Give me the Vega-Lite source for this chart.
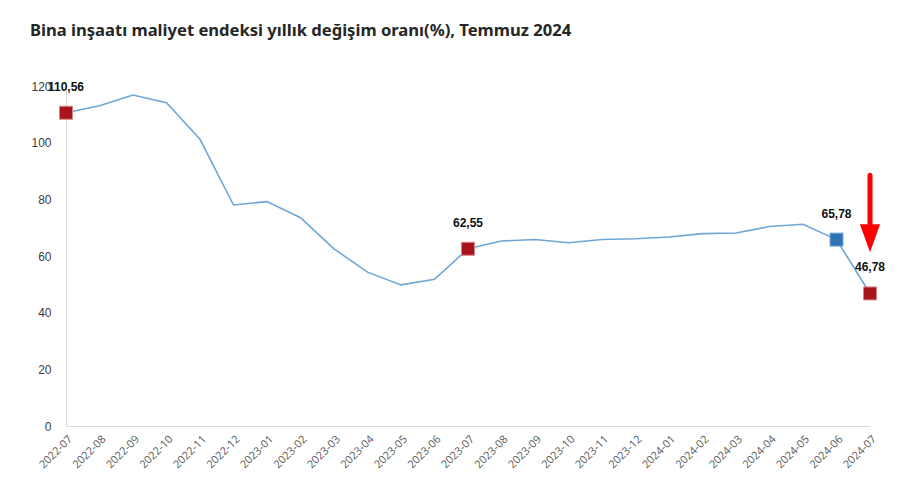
{
  "$schema": "https://vega.github.io/schema/vega-lite/v6.json",
  "width": 804,
  "height": 340,
  "autosize": "none",
  "padding": {"left": 66, "top": 86, "right": 37, "bottom": 78},
  "background": "white",
  "title": {
    "text": "Bina inşaatı maliyet endeksi yıllık değişim oranı(%), Temmuz 2024",
    "anchor": "start",
    "frame": "group",
    "dx": -36,
    "offset": 40,
    "font": "Noto Sans",
    "fontSize": 16.6,
    "fontWeight": "bold",
    "color": "#262626"
  },
  "config": {"view": {"stroke": null}},
  "datasets": {
    "series": [
      {"month": "2022-07", "value": 110.56, "mark": "red", "label": "110,56"},
      {"month": "2022-08", "value": 113.0, "mark": "", "label": ""},
      {"month": "2022-09", "value": 116.8, "mark": "", "label": ""},
      {"month": "2022-10", "value": 114.1, "mark": "", "label": ""},
      {"month": "2022-11", "value": 101.2, "mark": "", "label": ""},
      {"month": "2022-12", "value": 78.0, "mark": "", "label": ""},
      {"month": "2023-01", "value": 79.2, "mark": "", "label": ""},
      {"month": "2023-02", "value": 73.5, "mark": "", "label": ""},
      {"month": "2023-03", "value": 62.5, "mark": "", "label": ""},
      {"month": "2023-04", "value": 54.3, "mark": "", "label": ""},
      {"month": "2023-05", "value": 49.8, "mark": "", "label": ""},
      {"month": "2023-06", "value": 51.8, "mark": "", "label": ""},
      {"month": "2023-07", "value": 62.55, "mark": "red", "label": "62,55"},
      {"month": "2023-08", "value": 65.3, "mark": "", "label": ""},
      {"month": "2023-09", "value": 65.8, "mark": "", "label": ""},
      {"month": "2023-10", "value": 64.7, "mark": "", "label": ""},
      {"month": "2023-11", "value": 65.8, "mark": "", "label": ""},
      {"month": "2023-12", "value": 66.1, "mark": "", "label": ""},
      {"month": "2024-01", "value": 66.7, "mark": "", "label": ""},
      {"month": "2024-02", "value": 67.9, "mark": "", "label": ""},
      {"month": "2024-03", "value": 68.1, "mark": "", "label": ""},
      {"month": "2024-04", "value": 70.4, "mark": "", "label": ""},
      {"month": "2024-05", "value": 71.2, "mark": "", "label": ""},
      {"month": "2024-06", "value": 65.78, "mark": "blue", "label": "65,78"},
      {"month": "2024-07", "value": 46.78, "mark": "red", "label": "46,78"}
    ],
    "arrow": [
      {"month": "2024-07", "top": 88.5, "bottom": 71.5, "head": 66.3}
    ]
  },
  "data": {"name": "series"},
  "encoding": {
    "x": {
      "field": "month",
      "type": "ordinal",
      "scale": {"type": "point", "padding": 0},
      "axis": {
        "title": null,
        "labelAngle": -45,
        "labelFont": "Open Sans",
        "labelFontSize": 11,
        "labelColor": "#595959",
        "ticks": false,
        "domainColor": "#d9d9d9",
        "labelPadding": 7
      }
    },
    "y": {
      "field": "value",
      "type": "quantitative",
      "scale": {"domain": [0, 120]},
      "axis": {
        "title": null,
        "values": [0, 20, 40, 60, 80, 100, 120],
        "grid": false,
        "ticks": false,
        "domainColor": "#d9d9d9",
        "labelFont": "Liberation Sans",
        "labelFontSize": 12,
        "labelColor": "#404040",
        "labelPadding": 15
      }
    }
  },
  "layer": [
    {
      "mark": {"type": "line", "color": "#6fa6d6", "strokeWidth": 1.6}
    },
    {
      "transform": [{"filter": "datum.mark != ''"}],
      "mark": {"type": "square", "size": 169, "opacity": 1, "strokeWidth": 1},
      "encoding": {
        "color": {
          "field": "mark",
          "type": "nominal",
          "scale": {"domain": ["red", "blue"], "range": ["#a8141c", "#2e75b6"]},
          "legend": null
        },
        "stroke": {
          "field": "mark",
          "type": "nominal",
          "scale": {"domain": ["red", "blue"], "range": ["#d9868a", "#7aa8d4"]},
          "legend": null
        }
      }
    },
    {
      "transform": [{"filter": "datum.label != ''"}],
      "mark": {"type": "text", "dy": -26, "font": "Liberation Sans", "fontSize": 12, "fontWeight": "bold", "color": "#111111"},
      "encoding": {"text": {"field": "label"}}
    },
    {
      "data": {"name": "arrow"},
      "mark": {"type": "rule", "color": "#ff0000", "strokeWidth": 5, "strokeCap": "round"},
      "encoding": {
        "y": {"field": "top", "type": "quantitative"},
        "y2": {"field": "bottom"}
      }
    },
    {
      "data": {"name": "arrow"},
      "mark": {"type": "point", "shape": "M-0.72,-1L0.72,-1L0,1Z", "size": 784, "filled": true, "color": "#ff0000", "opacity": 1},
      "encoding": {
        "y": {"field": "head", "type": "quantitative"}
      }
    }
  ]
}
